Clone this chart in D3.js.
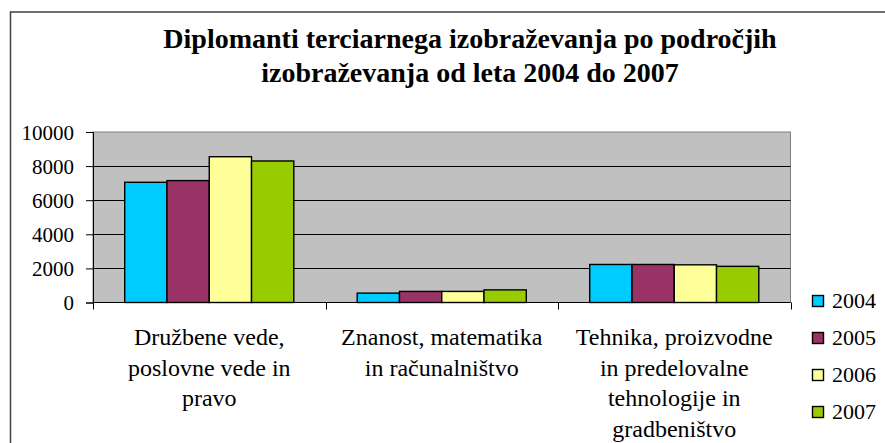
<!DOCTYPE html>
<html>
<head>
<meta charset="utf-8">
<script src="https://cdn.jsdelivr.net/npm/d3@7"></script>
<style>
  html, body { margin: 0; padding: 0; background: #fff; }
  svg { display: block; }
</style>
</head>
<body>
<svg id="chart" width="885" height="443"></svg>
<script>
const categories = [
  ["Družbene vede,", "poslovne vede in", "pravo"],
  ["Znanost, matematika", "in računalništvo"],
  ["Tehnika, proizvodne", "in predelovalne", "tehnologije in", "gradbeništvo"]
];
const years = ["2004", "2005", "2006", "2007"];
const values2004 = [7050, 550, 2230];
const values2005 = [7150, 650, 2230];
const values2006 = [8550, 650, 2210];
const values2007 = [8300, 740, 2120];
const colors = ["#00CCFF", "#993366", "#FFFF99", "#99CC00"];
const yTicks = [0, 2000, 4000, 6000, 8000, 10000];
const titleLines = ["Diplomanti terciarnega izobraževanja po področjih", "izobraževanja od leta 2004 do 2007"];

const FONT = "'Liberation Serif', 'Times New Roman', serif";
const series = [values2004, values2005, values2006, values2007];
const svg = d3.select("#chart");

// outer chart frame
svg.append("rect").attr("x", 10.5).attr("y", 12).attr("width", 900).attr("height", 460)
  .attr("fill", "#fff").attr("stroke", "#404040").attr("stroke-width", 1.5);

// title
svg.append("g").selectAll("text").data(titleLines).join("text")
  .attr("x", 470).attr("y", (d, i) => 48 + i * 34)
  .attr("text-anchor", "middle").style("font-family", FONT).style("font-size", "28px").style("font-weight", "bold")
  .attr("fill", "#000")
  .text(d => d);

const pLeft = 93, pRight = 790.5, pTop = 132, pBottom = 302.5;
const x0 = d3.scaleBand().domain(d3.range(categories.length)).range([pLeft, pRight]).paddingInner(0).paddingOuter(0);
const y = d3.scaleLinear().domain([0, 10000]).range([pBottom, pTop]);

// plot background
svg.append("rect").attr("x", pLeft).attr("y", pTop).attr("width", pRight - pLeft).attr("height", pBottom - pTop)
  .attr("fill", "#C0C0C0").attr("stroke", "#808080").attr("stroke-width", 1);

// gridlines
svg.append("g").selectAll("line").data(yTicks.filter(d => d > 0 && d < 10000)).join("line")
  .attr("x1", pLeft).attr("x2", pRight).attr("y1", d => Math.round(y(d)) + 0.5).attr("y2", d => Math.round(y(d)) + 0.5)
  .attr("stroke", "#000").attr("stroke-width", 1);

// bars
const bw = x0.bandwidth() / 5.5;
const g = svg.append("g");
series.forEach((vals, si) => {
  g.selectAll(null).data(vals).join("rect")
    .attr("x", (d, ci) => x0(ci) + bw * 0.75 + si * bw)
    .attr("y", d => y(d))
    .attr("width", bw)
    .attr("height", d => pBottom - y(d))
    .attr("fill", colors[si]).attr("stroke", "#000").attr("stroke-width", 1.4);
});

// y axis
const yAxis = d3.axisLeft(y).tickValues(yTicks).tickSize(7).tickPadding(12).tickFormat(d3.format("d"));
const ya = svg.append("g").attr("transform", `translate(${pLeft},0)`).call(yAxis);
ya.select(".domain").attr("stroke", "#000");
ya.selectAll("line").attr("stroke", "#000");
ya.selectAll("text").style("font-family", FONT).style("font-size", "21px").attr("fill", "#000").attr("dy", "0.34em");

// x axis
svg.append("line").attr("x1", pLeft).attr("x2", pRight).attr("y1", pBottom).attr("y2", pBottom).attr("stroke", "#000").attr("stroke-width", 1.2);
const bounds = d3.range(categories.length + 1).map(i => pLeft + i * x0.bandwidth());
svg.append("g").selectAll("line").data(bounds).join("line")
  .attr("x1", d => Math.round(d) + 0.5).attr("x2", d => Math.round(d) + 0.5)
  .attr("y1", pBottom).attr("y2", pBottom + 7).attr("stroke", "#000");

// category labels
categories.forEach((lines, ci) => {
  svg.append("text").attr("text-anchor", "middle").style("font-family", FONT).style("font-size", "24px").attr("fill", "#000")
    .selectAll("tspan").data(lines).join("tspan")
    .attr("x", x0(ci) + x0.bandwidth() / 2)
    .attr("y", (d, i) => 345 + i * 30.5)
    .text(d => d);
});

// legend
const lg = svg.append("g").selectAll("g").data(years).join("g")
  .attr("transform", (d, i) => `translate(812,${301 + i * 37})`);
lg.append("rect").attr("x", 0.5).attr("y", -5.5).attr("width", 11).attr("height", 11)
  .attr("fill", (d, i) => colors[i]).attr("stroke", "#000").attr("stroke-width", 1.4);
lg.append("text").attr("x", 20).attr("y", 0).attr("dy", "0.33em").style("font-family", FONT).style("font-size", "22px").attr("fill", "#000").text(d => d);
</script>
</body>
</html>
